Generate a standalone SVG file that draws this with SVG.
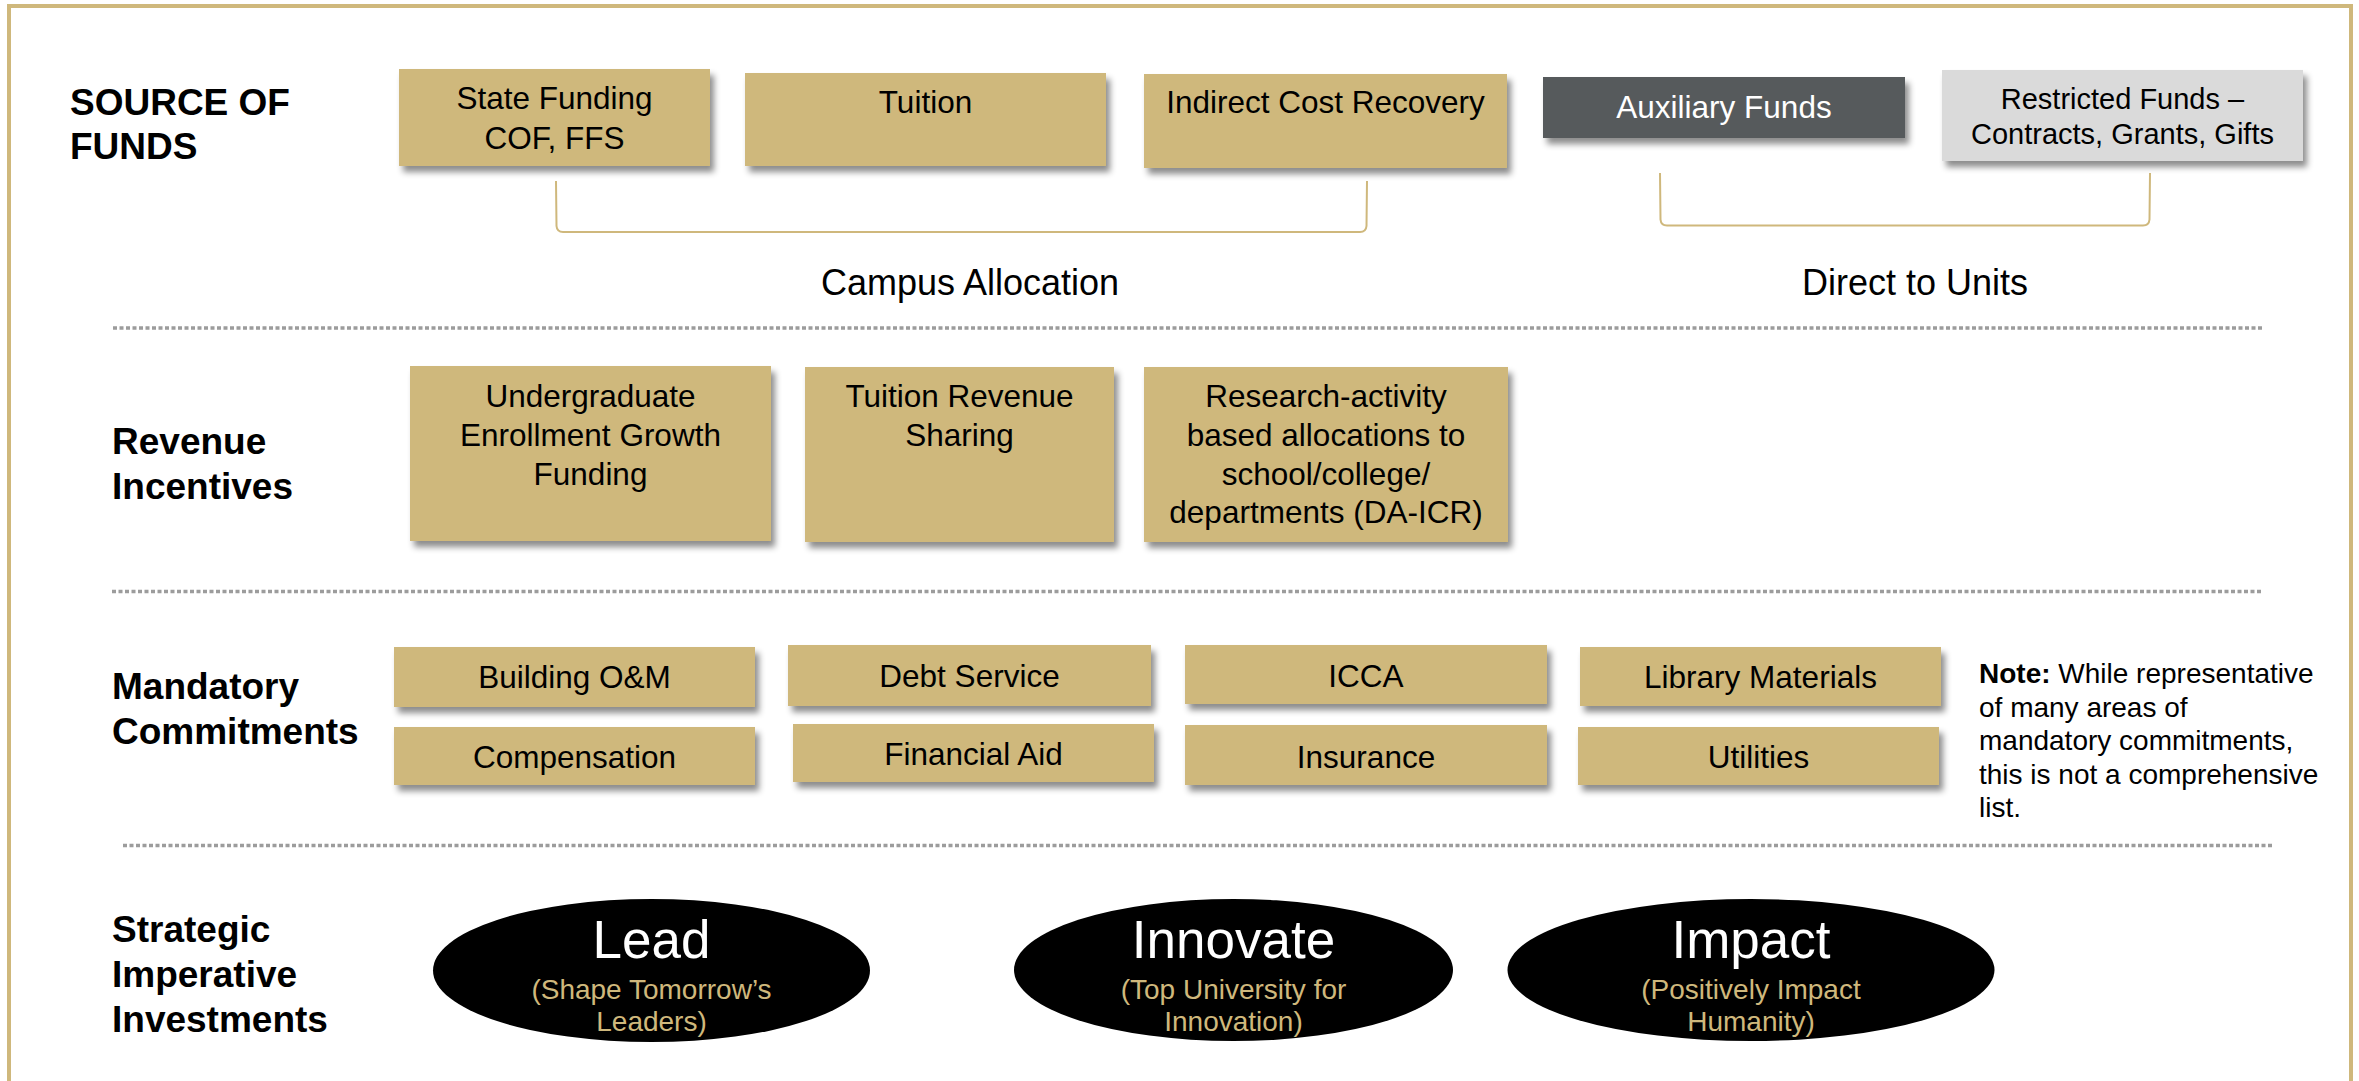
<svg xmlns="http://www.w3.org/2000/svg" width="2359" height="1081" viewBox="0 0 2359 1081">
  <defs>
    <filter id="shadow" x="-5%" y="-10%" width="115%" height="140%">
      <feDropShadow dx="4" dy="6" stdDeviation="3" flood-color="#000" flood-opacity="0.45"/>
    </filter>
  </defs>
  <style>
    text { font-family: "Liberation Sans", Arial, sans-serif; }
    .lbl { font-weight: bold; font-size: 37px; fill: #000; }
    .box { fill: #CFB87C; filter: url(#shadow); }
    .dark { fill: #565A5C; filter: url(#shadow); }
    .light { fill: #DADADA; filter: url(#shadow); }
    .bt { font-size: 31.5px; fill: #000; text-anchor: middle; }
    .wt { font-size: 31.5px; fill: #fff; text-anchor: middle; }
    .rt { font-size: 29px; fill: #000; text-anchor: middle; }
    .cap { font-size: 36px; fill: #000; text-anchor: middle; }
    .sep { stroke: #9C9C9C; stroke-width: 3.5; stroke-dasharray: 4 2.5; fill: none; }
    .brk { stroke: #CFB87C; stroke-width: 2; fill: none; }
    .oval { fill: #000; }
    .big { font-size: 53px; fill: #fff; text-anchor: middle; }
    .sub { font-size: 28px; fill: #CFB87C; text-anchor: middle; }
    .note { font-size: 28px; fill: #000; }
  </style>

  <rect width="2359" height="1081" fill="#fff"/>
  <!-- frame -->
  <rect x="9" y="6" width="2342" height="1110" fill="none" stroke="#CFB87C" stroke-width="4"/>

  <!-- row labels -->
  <g id="label-source">
    <text class="lbl" x="70" y="115">SOURCE OF</text>
    <text class="lbl" x="70" y="159">FUNDS</text>
  </g>
  <g id="label-revenue">
    <text class="lbl" x="112" y="454">Revenue</text>
    <text class="lbl" x="112" y="499">Incentives</text>
  </g>
  <g id="label-mandatory">
    <text class="lbl" x="112" y="699">Mandatory</text>
    <text class="lbl" x="112" y="744">Commitments</text>
  </g>
  <g id="label-strategic">
    <text class="lbl" x="112" y="942">Strategic</text>
    <text class="lbl" x="112" y="987">Imperative</text>
    <text class="lbl" x="112" y="1032">Investments</text>
  </g>

  <!-- separators and brackets -->
  <g id="connectors">
    <line class="sep" x1="113" y1="328" x2="2262" y2="328"/>
    <line class="sep" x1="112" y1="591.5" x2="2262" y2="591.5"/>
    <line class="sep" x1="123" y1="845.5" x2="2272" y2="845.5"/>
    <path class="brk" d="M556,181 L556.5,226 Q557,232 563,232 L1360,232 Q1366,232 1366.5,226 L1367,181"/>
    <path class="brk" d="M1660,173 L1660.5,219.5 Q1661,225.5 1667,225.5 L2143,225.5 Q2149,225.5 2149.5,219.5 L2150,173"/>
  </g>

  <!-- source of funds -->
  <g id="state-funding">
    <rect class="box" x="399" y="69" width="311" height="97"/>
    <text class="bt" x="554.5" y="109">State Funding</text>
    <text class="bt" x="554.5" y="149">COF, FFS</text>
  </g>
  <g id="tuition">
    <rect class="box" x="745" y="73" width="361" height="93"/>
    <text class="bt" x="925.5" y="113">Tuition</text>
  </g>
  <g id="indirect-cost">
    <rect class="box" x="1144" y="74" width="363" height="94"/>
    <text class="bt" x="1325.5" y="113">Indirect Cost Recovery</text>
  </g>
  <g id="auxiliary">
    <rect class="dark" x="1543" y="77" width="362" height="61"/>
    <text class="wt" x="1724" y="118">Auxiliary Funds</text>
  </g>
  <g id="restricted">
    <rect class="light" x="1942" y="70" width="361" height="91"/>
    <text class="rt" x="2122.5" y="109">Restricted Funds –</text>
    <text class="rt" x="2122.5" y="144">Contracts, Grants, Gifts</text>
  </g>
  <g id="campus-allocation">
    <text class="cap" x="970" y="295">Campus Allocation</text>
  </g>
  <g id="direct-to-units">
    <text class="cap" x="1915" y="295">Direct to Units</text>
  </g>

  <!-- revenue incentives -->
  <g id="ugrad-growth">
    <rect class="box" x="410" y="366" width="361" height="175"/>
    <text class="bt" x="590.5" y="407">Undergraduate</text>
    <text class="bt" x="590.5" y="446">Enrollment Growth</text>
    <text class="bt" x="590.5" y="485">Funding</text>
  </g>
  <g id="tuition-sharing">
    <rect class="box" x="805" y="367" width="309" height="175"/>
    <text class="bt" x="959.5" y="407">Tuition Revenue</text>
    <text class="bt" x="959.5" y="446">Sharing</text>
  </g>
  <g id="da-icr">
    <rect class="box" x="1144" y="367" width="364" height="175"/>
    <text class="bt" x="1326" y="407">Research-activity</text>
    <text class="bt" x="1326" y="446">based allocations to</text>
    <text class="bt" x="1326" y="485">school/college/</text>
    <text class="bt" x="1326" y="523">departments (DA-ICR)</text>
  </g>

  <!-- mandatory commitments -->
  <g id="building-om">
    <rect class="box" x="394" y="647" width="361" height="60"/>
    <text class="bt" x="574.5" y="688">Building O&amp;M</text>
  </g>
  <g id="compensation">
    <rect class="box" x="394" y="727" width="361" height="58"/>
    <text class="bt" x="574.5" y="768">Compensation</text>
  </g>
  <g id="debt-service">
    <rect class="box" x="788" y="645" width="363" height="61"/>
    <text class="bt" x="969.5" y="687">Debt Service</text>
  </g>
  <g id="financial-aid">
    <rect class="box" x="793" y="724" width="361" height="58"/>
    <text class="bt" x="973.5" y="765">Financial Aid</text>
  </g>
  <g id="icca">
    <rect class="box" x="1185" y="645" width="362" height="59"/>
    <text class="bt" x="1366" y="687">ICCA</text>
  </g>
  <g id="insurance">
    <rect class="box" x="1185" y="725" width="362" height="60"/>
    <text class="bt" x="1366" y="768">Insurance</text>
  </g>
  <g id="library">
    <rect class="box" x="1580" y="647" width="361" height="59"/>
    <text class="bt" x="1760.5" y="688">Library Materials</text>
  </g>
  <g id="utilities">
    <rect class="box" x="1578" y="727" width="361" height="58"/>
    <text class="bt" x="1758.5" y="768">Utilities</text>
  </g>
  <g id="note">
    <text class="note" x="1979" y="683"><tspan font-weight="bold">Note:</tspan> While representative</text>
    <text class="note" x="1979" y="717">of many areas of</text>
    <text class="note" x="1979" y="750">mandatory commitments,</text>
    <text class="note" x="1979" y="784">this is not a comprehensive</text>
    <text class="note" x="1979" y="817">list.</text>
  </g>

  <!-- strategic imperatives -->
  <g id="lead">
    <ellipse class="oval" cx="651.5" cy="970.5" rx="218.5" ry="71.5"/>
    <text class="big" x="651.5" y="958">Lead</text>
    <text class="sub" x="651.5" y="999">(Shape Tomorrow’s</text>
    <text class="sub" x="651.5" y="1031">Leaders)</text>
  </g>
  <g id="innovate">
    <ellipse class="oval" cx="1233.5" cy="970" rx="219.5" ry="71"/>
    <text class="big" x="1233.5" y="958">Innovate</text>
    <text class="sub" x="1233.5" y="999">(Top University for</text>
    <text class="sub" x="1233.5" y="1031">Innovation)</text>
  </g>
  <g id="impact">
    <ellipse class="oval" cx="1751" cy="970" rx="243.5" ry="71"/>
    <text class="big" x="1751" y="958">Impact</text>
    <text class="sub" x="1751" y="999">(Positively Impact</text>
    <text class="sub" x="1751" y="1031">Humanity)</text>
  </g>
</svg>
